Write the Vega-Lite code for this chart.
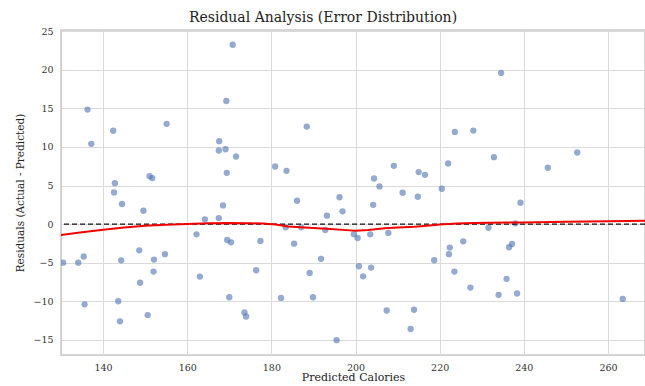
{
  "$schema": "https://vega.github.io/schema/vega-lite/v6.json",
  "width": 584,
  "height": 325,
  "autosize": {"type": "none"},
  "padding": {"left": 61, "top": 30, "right": 0, "bottom": 31},
  "background": "white",
  "title": {
    "text": "Residual Analysis (Error Distribution)",
    "font": "DejaVu Serif",
    "fontSize": 14,
    "fontWeight": "normal",
    "color": "#222",
    "anchor": "middle",
    "dx": -30,
    "offset": 1
  },
  "config": {
    "view": {"stroke": "#d6d6d6", "strokeWidth": 2},
    "axis": {
      "labelFont": "DejaVu Serif",
      "labelFontSize": 9.5,
      "labelColor": "#333",
      "titleFont": "DejaVu Serif",
      "titleFontSize": 10.5,
      "titleFontWeight": "normal",
      "titleColor": "#222",
      "gridColor": "#dadada",
      "gridWidth": 1,
      "domainColor": "#cfcfcf",
      "domainWidth": 1.2,
      "ticks": false,
      "labelPadding": 8
    }
  },
  "datasets": {
    "pts": [
      {"pred": 130.5, "res": -5.0}, {"pred": 134.1, "res": -5.0}, {"pred": 135.4, "res": -4.2}, {"pred": 135.6, "res": -10.4},
      {"pred": 136.3, "res": 14.84}, {"pred": 137.2, "res": 10.4}, {"pred": 142.4, "res": 12.1}, {"pred": 142.8, "res": 5.3},
      {"pred": 142.6, "res": 4.1}, {"pred": 144.5, "res": 2.6}, {"pred": 144.3, "res": -4.7}, {"pred": 143.6, "res": -10.0},
      {"pred": 144.0, "res": -12.6}, {"pred": 148.6, "res": -3.4}, {"pred": 148.8, "res": -7.6}, {"pred": 149.6, "res": 1.73},
      {"pred": 150.6, "res": -11.8}, {"pred": 151.05, "res": 6.2}, {"pred": 151.7, "res": 5.96}, {"pred": 152.1, "res": -4.6},
      {"pred": 152.0, "res": -6.16}, {"pred": 154.7, "res": -3.9}, {"pred": 155.1, "res": 13.0}, {"pred": 162.2, "res": -1.33},
      {"pred": 163.0, "res": -6.8}, {"pred": 164.2, "res": 0.62}, {"pred": 167.5, "res": 0.78}, {"pred": 167.6, "res": 10.75},
      {"pred": 167.5, "res": 9.54}, {"pred": 169.1, "res": 9.7}, {"pred": 168.5, "res": 2.42}, {"pred": 169.3, "res": 15.96},
      {"pred": 169.4, "res": 6.65}, {"pred": 169.5, "res": -2.06}, {"pred": 170.4, "res": -2.36}, {"pred": 170.0, "res": -9.48},
      {"pred": 170.8, "res": 23.25}, {"pred": 171.6, "res": 8.76}, {"pred": 173.6, "res": -11.46}, {"pred": 174.0, "res": -11.98},
      {"pred": 176.4, "res": -5.98}, {"pred": 177.4, "res": -2.19}, {"pred": 180.9, "res": 7.47}, {"pred": 182.3, "res": -9.57},
      {"pred": 183.4, "res": -0.42}, {"pred": 183.6, "res": 6.9}, {"pred": 185.4, "res": -2.54}, {"pred": 186.1, "res": 3.03},
      {"pred": 187.1, "res": -0.42}, {"pred": 188.4, "res": 12.64}, {"pred": 189.1, "res": -6.33}, {"pred": 189.9, "res": -9.48},
      {"pred": 191.8, "res": -4.5}, {"pred": 192.8, "res": -0.77}, {"pred": 193.2, "res": 1.09}, {"pred": 195.5, "res": -15.05},
      {"pred": 196.2, "res": 3.48}, {"pred": 196.9, "res": 1.65}, {"pred": 199.6, "res": -1.33}, {"pred": 200.5, "res": -1.8},
      {"pred": 200.8, "res": -5.47}, {"pred": 201.8, "res": -6.77}, {"pred": 203.5, "res": -1.33}, {"pred": 203.7, "res": -5.64},
      {"pred": 204.2, "res": 2.5}, {"pred": 204.4, "res": 5.91}, {"pred": 205.7, "res": 4.88}, {"pred": 207.4, "res": -11.2},
      {"pred": 207.8, "res": -1.15}, {"pred": 209.1, "res": 7.55}, {"pred": 211.2, "res": 4.06}, {"pred": 213.1, "res": -13.6},
      {"pred": 213.9, "res": -11.1}, {"pred": 214.8, "res": 3.54}, {"pred": 215.0, "res": 6.74}, {"pred": 216.5, "res": 6.39},
      {"pred": 218.7, "res": -4.69}, {"pred": 220.5, "res": 4.58}, {"pred": 222.0, "res": 7.85}, {"pred": 222.2, "res": -3.9},
      {"pred": 222.4, "res": -3.05}, {"pred": 223.5, "res": -6.16}, {"pred": 223.6, "res": 11.95}, {"pred": 225.6, "res": -2.23},
      {"pred": 227.3, "res": -8.23}, {"pred": 228.0, "res": 12.12}, {"pred": 231.6, "res": -0.47}, {"pred": 232.9, "res": 8.68},
      {"pred": 234.0, "res": -9.17}, {"pred": 234.6, "res": 19.6}, {"pred": 235.9, "res": -7.1}, {"pred": 236.5, "res": -3.0},
      {"pred": 237.2, "res": -2.58}, {"pred": 238.0, "res": 0.1}, {"pred": 238.4, "res": -9.0}, {"pred": 239.2, "res": 2.77},
      {"pred": 245.7, "res": 7.3}, {"pred": 252.7, "res": 9.28}, {"pred": 263.5, "res": -9.7}
    ],
    "trend": [
      {"pred": 128, "res": -1.55}, {"pred": 130, "res": -1.4}, {"pred": 135, "res": -1.05}, {"pred": 140, "res": -0.72},
      {"pred": 145, "res": -0.45}, {"pred": 150, "res": -0.22}, {"pred": 155, "res": -0.08}, {"pred": 160, "res": 0.02},
      {"pred": 165, "res": 0.1}, {"pred": 170, "res": 0.15}, {"pred": 175, "res": 0.1}, {"pred": 178, "res": 0.08},
      {"pred": 181, "res": -0.05}, {"pred": 184, "res": -0.3}, {"pred": 187, "res": -0.42}, {"pred": 190, "res": -0.5},
      {"pred": 194, "res": -0.64}, {"pred": 197, "res": -0.75}, {"pred": 200, "res": -0.85}, {"pred": 203, "res": -0.78},
      {"pred": 207, "res": -0.55}, {"pred": 210, "res": -0.45}, {"pred": 214, "res": -0.33}, {"pred": 217, "res": -0.2},
      {"pred": 220, "res": -0.05}, {"pred": 224, "res": 0.08}, {"pred": 228, "res": 0.15}, {"pred": 232, "res": 0.18},
      {"pred": 240, "res": 0.22}, {"pred": 250, "res": 0.3}, {"pred": 260, "res": 0.38}, {"pred": 270, "res": 0.45}
    ]
  },
  "encoding": {
    "x": {
      "field": "pred", "type": "quantitative",
      "scale": {"domain": [130, 268.8], "nice": false, "zero": false},
      "axis": {"title": "Predicted Calories", "titleFontSize": 11, "values": [140, 160, 180, 200, 220, 240, 260], "labelPadding": 7, "titlePadding": 0}
    },
    "y": {
      "field": "res", "type": "quantitative",
      "scale": {"domain": [-16.97, 25.16], "nice": false, "zero": false},
      "axis": {"title": "Residuals (Actual - Predicted)", "values": [-15, -10, -5, 0, 5, 10, 15, 20, 25], "titlePadding": 7}
    }
  },
  "layer": [
    {
      "data": {"name": "pts"},
      "mark": {"type": "circle", "size": 40, "color": "#4C72B0", "opacity": 0.6, "clip": true}
    },
    {
      "data": {"values": [{"v": 0}]},
      "mark": {"type": "rule", "color": "#111", "strokeWidth": 1.4, "strokeDash": [5, 3]},
      "encoding": {"y": {"field": "v", "type": "quantitative"}, "x": null}
    },
    {
      "data": {"name": "trend"},
      "mark": {"type": "line", "color": "#f20000", "strokeWidth": 2, "clip": true}
    }
  ]
}
